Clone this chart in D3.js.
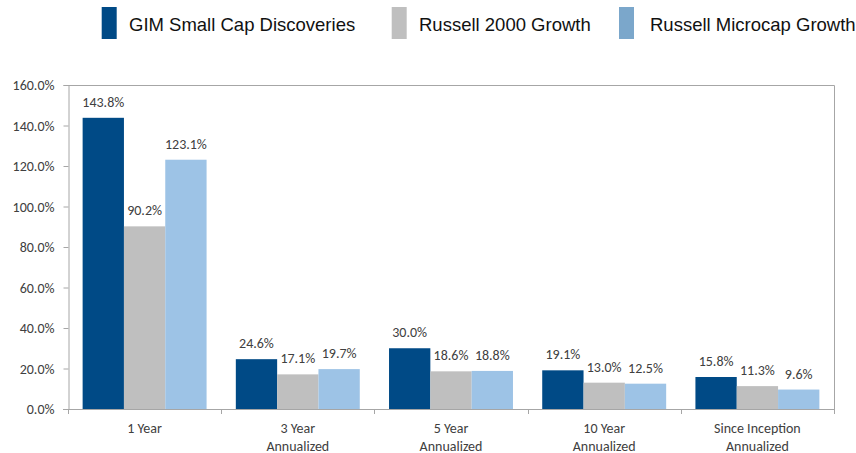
<!DOCTYPE html>
<html><head><meta charset="utf-8">
<script src="https://cdn.jsdelivr.net/npm/d3@7"></script>
<style>body{margin:0;background:#fff}svg{display:block}</style>
</head><body>
<svg id="c" width="856" height="453"></svg>
<script>
const categories = [["1 Year"],["3 Year","Annualized"],["5 Year","Annualized"],["10 Year","Annualized"],["Since Inception","Annualized"]];
const seriesNames = ["GIM Small Cap Discoveries","Russell 2000 Growth","Russell Microcap Growth"];
const gim = [143.8, 24.6, 30.0, 19.1, 15.8];
const r2000 = [90.2, 17.1, 18.6, 13.0, 11.3];
const micro = [123.1, 19.7, 18.8, 12.5, 9.6];
const yTicks = [0,20,40,60,80,100,120,140,160];
const colors = ["#004a86","#bfbfbf","#9dc3e6"];
const legendColors = ["#004a86","#bfbfbf","#7ba7cb"];

const series = [gim, r2000, micro];
const svg = d3.select("#c");
const L = 68, R = 834, T = 85, B = 409;
const x = d3.scaleBand().domain(d3.range(categories.length)).range([L, R]).paddingInner(0).paddingOuter(0);
const y = d3.scaleLinear().domain([0,160]).range([B, T]);
const inner = d3.scaleBand().domain(d3.range(3)).range([0, x.bandwidth()]).paddingOuter(0.354).paddingInner(0);
const font = "Carlito, Lato, sans-serif";
const fs = 14;

// frame top/right
svg.append("path").attr("d", `M${L},${T+0.5}H${R+0.5}V${B}`).attr("fill","none").attr("stroke","#a6a6a6").attr("stroke-width",1);

// bars
series.forEach((s, si) => {
  svg.selectAll(null).data(s).enter().append("rect")
    .attr("x", (d,i) => x(i) + inner(si))
    .attr("y", d => y(d))
    .attr("width", inner.bandwidth())
    .attr("height", d => B - y(d))
    .attr("fill", colors[si]);
  svg.selectAll(null).data(s).enter().append("text")
    .attr("x", (d,i) => x(i) + inner(si) + inner.bandwidth()/2)
    .attr("y", d => y(d) - 11)
    .attr("text-anchor","middle")
    .attr("font-family", font).attr("font-size", fs).attr("fill","#404040")
    .text(d => d.toFixed(1) + "%");
});

// y axis
const ya = d3.axisLeft(y).tickValues(yTicks).tickSize(5).tickFormat(d => d.toFixed(1) + "%");
const gy = svg.append("g").attr("transform", `translate(${L+0.5},0)`).call(ya);
gy.select(".domain").attr("stroke","#a6a6a6");
gy.selectAll(".tick line").attr("stroke","#a6a6a6");
gy.selectAll(".tick text").attr("font-family", font).attr("font-size", fs).attr("fill","#404040").attr("x",-14).attr("dy","0.35em");

// x axis
svg.append("line").attr("x1", L-5).attr("x2", R).attr("y1", B+0.5).attr("y2", B+0.5).attr("stroke","#a6a6a6");
d3.range(categories.length+1).forEach(i => {
  const xx = (i < categories.length ? x(i) : R);
  svg.append("line").attr("x1", Math.round(xx)+0.5).attr("x2", Math.round(xx)+0.5).attr("y1", B).attr("y2", B+5).attr("stroke","#a6a6a6");
});
categories.forEach((lines, i) => {
  const t = svg.append("text").attr("text-anchor","middle")
    .attr("font-family", font).attr("font-size", fs).attr("fill","#404040");
  lines.forEach((ln, j) => {
    t.append("tspan").attr("x", x(i) + x.bandwidth()/2).attr("y", 433 + j*17.5).text(ln);
  });
});

// legend
const legX = [101.7, 391.7, 619];
const legTX = [129, 419, 650];
seriesNames.forEach((n, i) => {
  svg.append("rect").attr("x", legX[i]).attr("y", 7).attr("width", 15).attr("height", 32).attr("fill", legendColors[i]);
  svg.append("text").attr("x", legTX[i]).attr("y", 31)
    .attr("font-family","'Liberation Sans', Arial, sans-serif").attr("font-size", 18.5).attr("fill","#111")
    .text(n);
});
</script>
</body></html>
